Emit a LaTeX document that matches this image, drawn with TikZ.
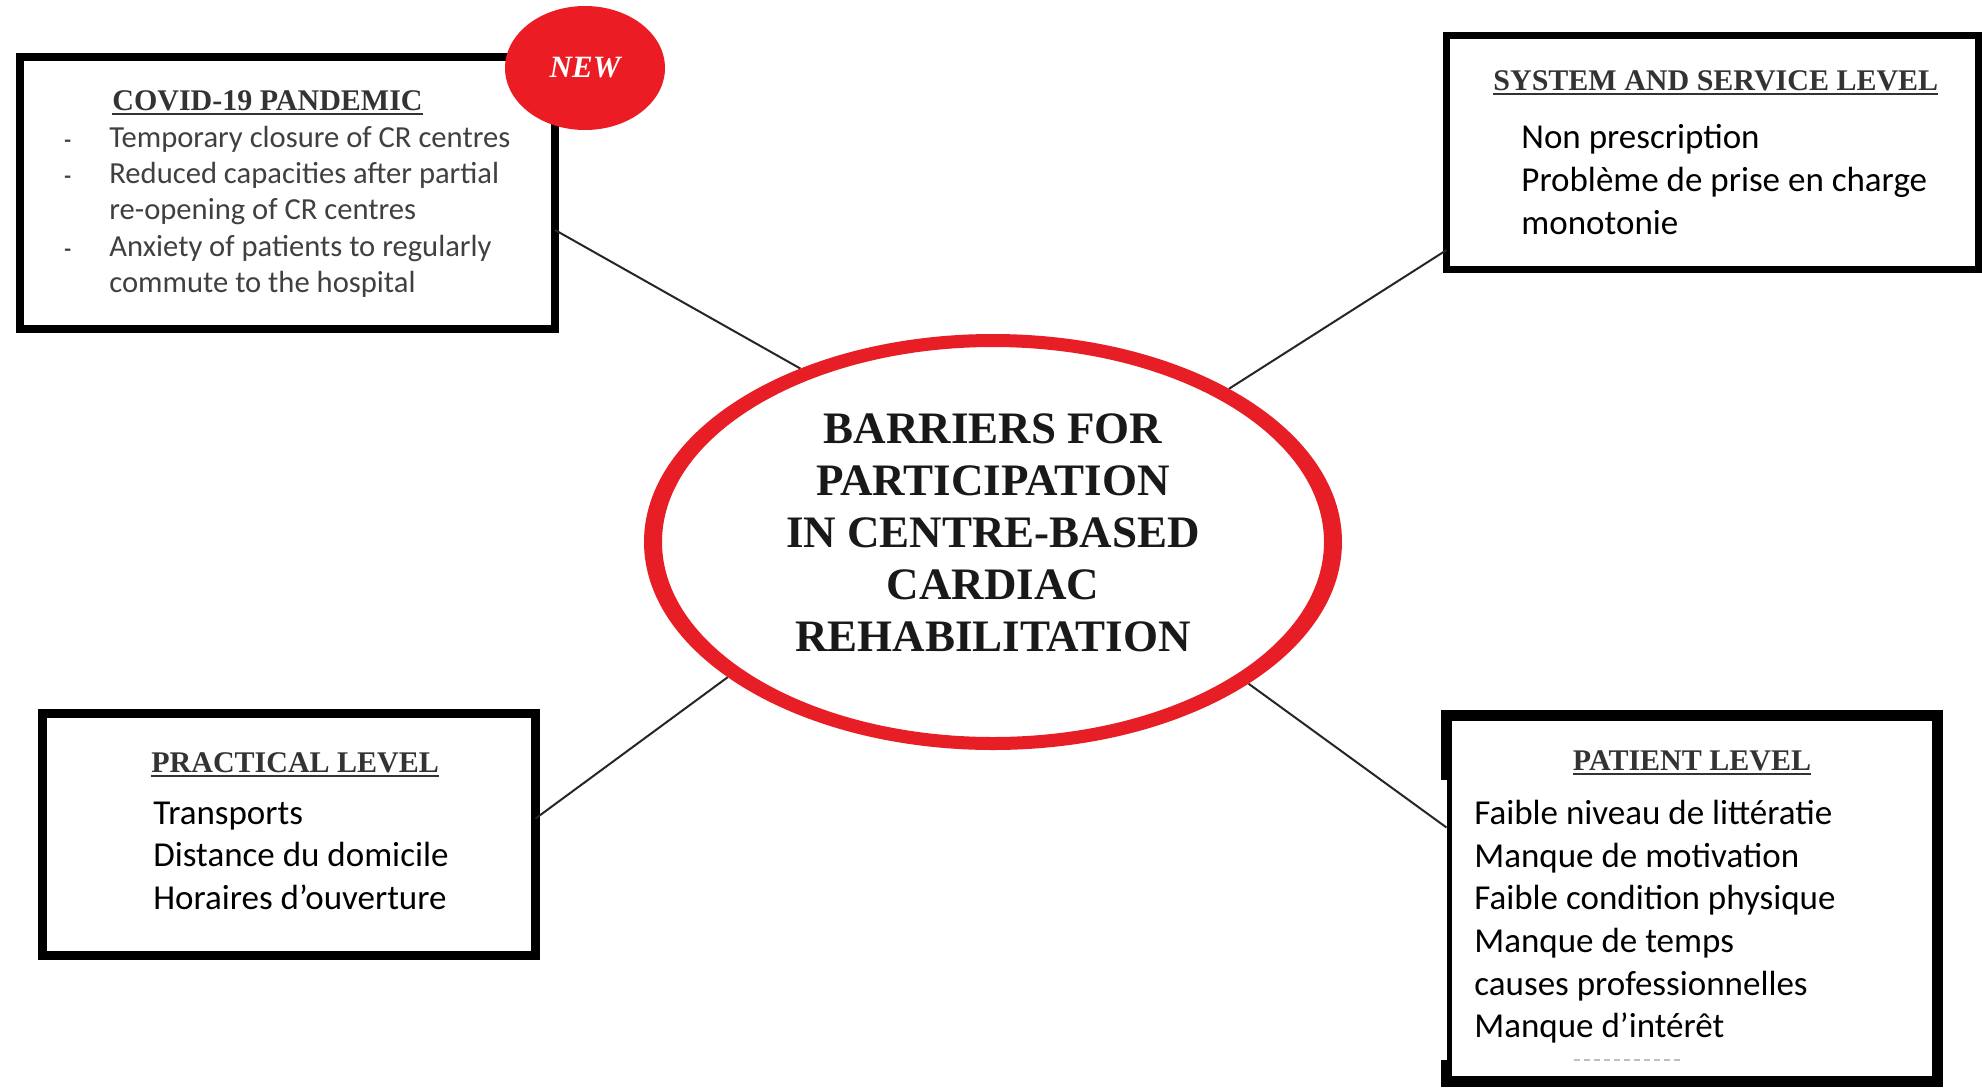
\documentclass[tikz,border=0pt]{standalone}
\usepackage{fontspec}
\setmainfont{Liberation Serif}
\newfontfamily\calib{Carlito}
\usetikzlibrary{shapes.geometric,calc}
\definecolor{ringred}{RGB}{232,30,38}
\definecolor{badgered}{RGB}{236,28,36}
% underlined heading with a heavier rule
\newcommand\ulbox[1]{\setbox0\hbox{#1}\rlap{\rule[-2.6pt]{\wd0}{1.3pt}}\box0}

\begin{document}
\begin{tikzpicture}[x=0.5pt,y=-0.5pt,
  panel/.style={draw=black, rectangle, inner sep=0pt, outer sep=0pt, fill=white},
  heading/.style={font=\bfseries\fontsize{15}{18}\selectfont, text=black!80, inner sep=0pt},
  item/.style={font=\calib\fontsize{17.5}{21}\selectfont, text=black, inner sep=0pt, anchor=base west},
  covitem/.style={font=\calib\fontsize{15.3}{18}\selectfont, text=black!75, inner sep=0pt, anchor=base west},
  link/.style={draw=black!85, line width=1pt},
  core/.style={font=\bfseries\fontsize{22.5}{26}\selectfont, text=black!90, inner sep=0pt, anchor=base}
]
\useasboundingbox (0,0) rectangle (1982,1088);
\fill[white] (0,0) rectangle (1982,1088);

% the four category panels
\node[panel, line width=4pt, minimum width=267.5pt, minimum height=136pt] (covid) at (287.5,193) {};
\node[panel, line width=3.5pt, minimum width=266pt, minimum height=117pt] (system) at (1712.5,152.5) {};
\node[panel, line width=4.5pt, minimum width=246.5pt, minimum height=121pt] (practical) at (289,834.5) {};
\node[panel, line width=5.5pt, minimum width=245.5pt, minimum height=183pt] (patient) at (1692,898.5) {};
% thinner stretch of the patient panel's left edge
\fill[white] (1441,780) rectangle (1447,1060);
\draw[black!25, line width=1pt, dash pattern=on 3pt off 2pt] (1574,1060) -- (1682,1060);

% central ellipse
\node[ellipse, minimum width=349pt, minimum height=208pt, inner sep=0pt, outer sep=0pt, fill=white] (bar) at (993,542) {};

% connectors
\draw[link] ($(covid.north east)!0.636!(covid.south east)$) -- (bar.138.2);
\draw[link] ($(system.north west)!0.917!(system.south west)$) -- (bar.33.3);
\draw[link] ($(practical.north east)!0.434!(practical.south east)$) -- (bar.207.7);
\draw[link] ($(patient.north west)!0.306!(patient.south west)$) -- (bar.331.7);

% red ring
\fill[ringred, even odd rule] (bar.center) ellipse [x radius=174.5pt, y radius=104pt]
  (bar.center) ellipse [x radius=165.5pt, y radius=97.5pt];

\foreach \t [count=\i from 0] in {BARRIERS FOR, PARTICIPATION, IN CENTRE-BASED, CARDIAC, REHABILITATION}
  \node[core] (core\i) at (993,{443+52*\i}) {\t};

% badge
\node[ellipse, fill=badgered, minimum width=80pt, minimum height=62pt, inner sep=0pt] (badge) at (585,68) {};
\node[font=\bfseries\itshape\fontsize{15.5}{18}\selectfont, text=white, inner sep=0pt] (badgetxt) at (badge.center) {NEW};

% COVID-19 panel text
\node[heading, anchor=base west] (covidhead) at (112,110) {\ulbox{COVID-19 PANDEMIC}};
\foreach \y [count=\i] in {147,183,256}
  \node[covitem, font=\calib\bfseries\fontsize{11}{13}\selectfont] (bul\i) at (64,\y) {-};
\foreach \t/\y [count=\i] in {Temporary closure of CR centres/147, Reduced capacities after partial/183,
    re-opening of CR centres/219, Anxiety of patients to regularly/256, commute to the hospital/292}
  \node[covitem] (cov\i) at (109,\y) {\t};

% system and service panel text
\node[heading, anchor=base west] (syshead) at (1493,90) {\ulbox{SYSTEM AND SERVICE LEVEL}};
\foreach \t/\y [count=\i] in {Non prescription/148, Problème de prise en charge/191, monotonie/234}
  \node[item] (sys\i) at (1521,\y) {\t};

% practical panel text
\node[heading, anchor=base west] (prahead) at (151,772) {\ulbox{PRACTICAL LEVEL}};
\foreach \t/\y [count=\i] in {Transports/824, Distance du domicile/866, Horaires d’ouverture/909}
  \node[item] (pra\i) at (153,\y) {\t};

% patient panel text
\node[heading, anchor=base] (pathead) at (1692,770) {\ulbox{PATIENT LEVEL}};
\foreach \t/\y [count=\i] in {Faible niveau de littératie/824, Manque de motivation/867,
    Faible condition physique/909, Manque de temps/952, causes professionnelles/995, Manque d’intérêt/1037}
  \node[item] (pat\i) at (1474,\y) {\t};
\end{tikzpicture}
\end{document}
